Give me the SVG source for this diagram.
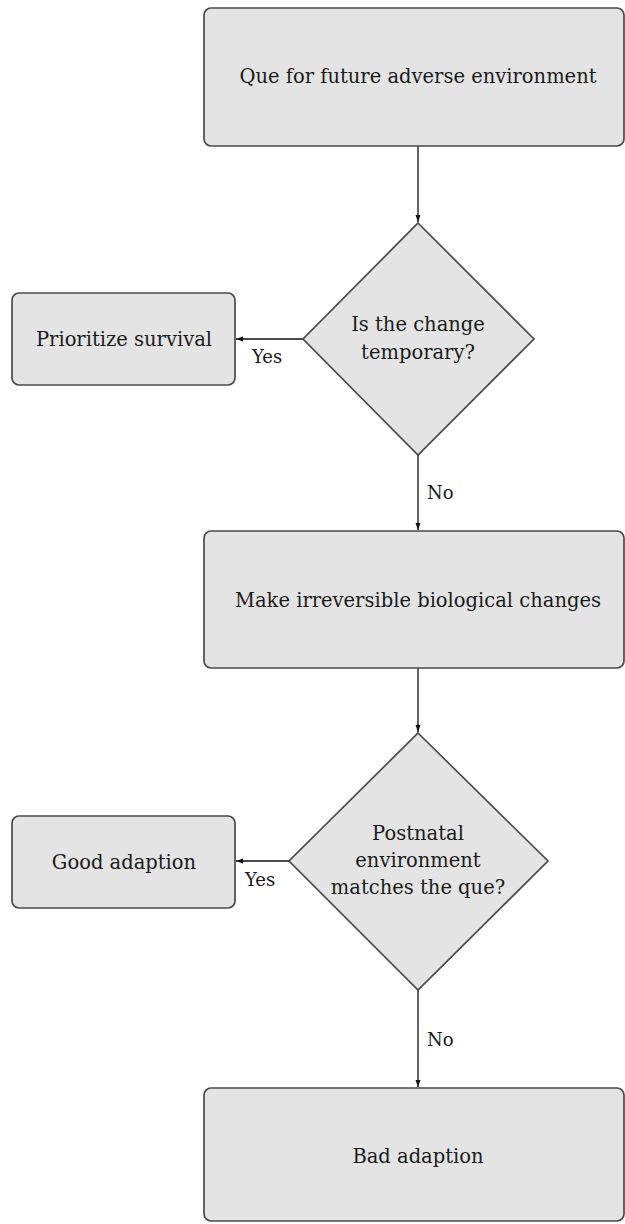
<svg xmlns="http://www.w3.org/2000/svg" width="625" height="1224" viewBox="0 0 625 1224">
<style>
.box{fill:#e4e4e4;stroke:#4a4a4a;stroke-width:1.7}
.t{font-family:'DejaVu Serif',serif;font-size:19.5px;fill:#1a1a1a;text-anchor:middle}
.lbl{font-family:'DejaVu Serif',serif;font-size:18px;fill:#1a1a1a}
.c{stroke:#111;stroke-width:1.3;fill:none;marker-end:url(#ah)}
</style>
<defs>
<marker id="ah" markerWidth="8" markerHeight="6" refX="7" refY="3" orient="auto" markerUnits="userSpaceOnUse">
<path d="M0,0.5 L7,3 L0,5.5 Z" fill="#111"/>
</marker>
</defs>
<rect width="625" height="1224" fill="#fff"/>
<g id="connectors">
<line class="c" x1="418" y1="146" x2="418" y2="222"/>
<line class="c" x1="303" y1="339" x2="236" y2="339"/>
<line class="c" x1="418" y1="455" x2="418" y2="530"/>
<line class="c" x1="418" y1="668" x2="418" y2="732"/>
<line class="c" x1="289" y1="861" x2="236" y2="861"/>
<line class="c" x1="418" y1="990" x2="418" y2="1087"/>
<text class="lbl" x="252" y="363">Yes</text>
<text class="lbl" x="427" y="499">No</text>
<text class="lbl" x="245" y="886">Yes</text>
<text class="lbl" x="427" y="1046">No</text>
</g>
<g id="n1">
<rect class="box" x="204" y="8" width="420" height="138" rx="7"/>
<text class="t" x="418" y="83">Que for future adverse environment</text>
</g>
<g id="n2">
<polygon class="box" points="418,223 534,339 418,455 303,339"/>
<text class="t" x="418" y="331">Is the change</text>
<text class="t" x="418" y="359">temporary?</text>
</g>
<g id="n3">
<rect class="box" x="12" y="293" width="223" height="92" rx="7"/>
<text class="t" x="124" y="346">Prioritize survival</text>
</g>
<g id="n4">
<rect class="box" x="204" y="531" width="420" height="137" rx="7"/>
<text class="t" x="418" y="607">Make irreversible biological changes</text>
</g>
<g id="n5">
<polygon class="box" points="418,733 548,861 418,990 289,861"/>
<text class="t" x="418" y="840">Postnatal</text>
<text class="t" x="418" y="867">environment</text>
<text class="t" x="418" y="894">matches the que?</text>
</g>
<g id="n6">
<rect class="box" x="12" y="816" width="223" height="92" rx="7"/>
<text class="t" x="124" y="869">Good adaption</text>
</g>
<g id="n7">
<rect class="box" x="204" y="1088" width="420" height="133" rx="7"/>
<text class="t" x="418" y="1163">Bad adaption</text>
</g>
</svg>
